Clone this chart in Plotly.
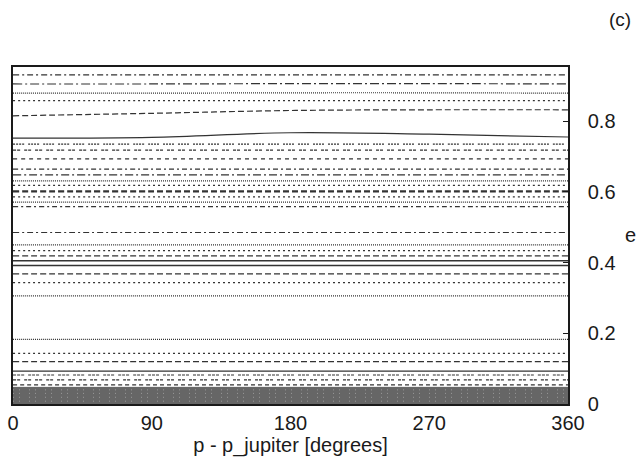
import plotly.graph_objects as go

# phase samples (degrees)
phase = [0, 90, 180, 270, 360]

# eccentricity curves (values at the phase samples), top to bottom
e_curves = [
    [0.931, 0.931, 0.931, 0.931, 0.931],
    [0.905, 0.905, 0.906, 0.906, 0.905],
    [0.879, 0.879, 0.880, 0.880, 0.879],
    [0.858, 0.858, 0.858, 0.858, 0.858],
    [0.815, 0.822, 0.830, 0.832, 0.832],
    [0.752, 0.754, 0.767, 0.763, 0.755],
    [0.735, 0.735, 0.735, 0.735, 0.735],
    [0.718, 0.718, 0.718, 0.718, 0.718],
    [0.693, 0.693, 0.693, 0.693, 0.693],
    [0.664, 0.664, 0.664, 0.664, 0.664],
    [0.648, 0.648, 0.648, 0.648, 0.648],
    [0.631, 0.631, 0.631, 0.631, 0.631],
    [0.618, 0.618, 0.618, 0.618, 0.618],
    [0.601, 0.601, 0.601, 0.601, 0.601],
    [0.586, 0.586, 0.586, 0.586, 0.586],
    [0.571, 0.571, 0.571, 0.571, 0.571],
    [0.558, 0.558, 0.558, 0.558, 0.558],
    [0.485, 0.485, 0.485, 0.485, 0.485],
    [0.450, 0.450, 0.450, 0.450, 0.450],
    [0.434, 0.434, 0.434, 0.434, 0.434],
    [0.419, 0.419, 0.419, 0.419, 0.419],
    [0.405, 0.405, 0.405, 0.405, 0.405],
    [0.392, 0.392, 0.392, 0.392, 0.392],
    [0.368, 0.368, 0.368, 0.368, 0.368],
    [0.343, 0.343, 0.343, 0.343, 0.343],
    [0.306, 0.306, 0.306, 0.306, 0.306],
    [0.183, 0.183, 0.183, 0.183, 0.183],
    [0.143, 0.143, 0.143, 0.143, 0.143],
    [0.120, 0.120, 0.120, 0.120, 0.120],
    [0.093, 0.093, 0.093, 0.093, 0.093],
    [0.082, 0.082, 0.082, 0.082, 0.082],
    [0.068, 0.068, 0.068, 0.068, 0.068],
    [0.054, 0.054, 0.054, 0.054, 0.054],
]

# dense low-eccentricity band (upper edge)
band_top = [0.047, 0.047, 0.047, 0.047, 0.047]
band_lines = [0.008, 0.019, 0.030, 0.040]

x_ticks = [0, 90, 180, 270, 360]
y_ticks = [0, 0.2, 0.4, 0.6, 0.8]

# styles
dash_styles = [
    "6px,3px,2px,3px", "9px,3px,2px,3px", "1px,1px", "2px,3px", "6px,3px",
    "solid", "2px,1px,2px,1px,2px,1px,2px,4px", "3px,1px,3px,4px", "4px,4px",
    "5px,3px,2px,3px", "8px,3px,2px,3px", "1px,1px", "2px,3px", "6px,3px",
    "2px,3px", "1px,1px", "5px,3px,2px,3px", "6px,3px,2px,3px", "1px,1px",
    "2px,3px", "6px,3px", "solid", "solid", "6px,3px", "2px,3px", "1px,1px",
    "1px,1px", "2px,3px", "6px,3px", "solid",
    "3px,1px,3px,1px,3px,4px", "3px,1px,3px,4px", "4px,3px",
]
widths = [1.2] * len(e_curves)
widths[13] = 2.2
widths[21] = 1.5
widths[22] = 1.5

fig = go.Figure()

fig.add_trace(go.Scatter(x=phase, y=band_top, mode="lines",
                         line=dict(color="#5e5e5e", width=1),
                         fill="tozeroy", fillcolor="#666666",
                         showlegend=False, hoverinfo="skip"))
for b in band_lines:
    fig.add_trace(go.Scatter(x=phase, y=[b] * len(phase), mode="lines",
                             line=dict(color="#9a9a9a", width=1, dash="1px,5px,1px,9px"),
                             showlegend=False, hoverinfo="skip"))

for ys, d, w in zip(e_curves, dash_styles, widths):
    fig.add_trace(go.Scatter(x=phase, y=ys, mode="lines",
                             line=dict(color="#333333", width=w, dash=d, shape="spline"),
                             showlegend=False, hoverinfo="skip"))

font = "Liberation Sans, Arial, sans-serif"
fig.update_layout(
    width=641, height=469,
    margin=dict(l=13, r=73, t=67, b=65, autoexpand=False),
    paper_bgcolor="white", plot_bgcolor="white",
    font=dict(family=font, size=20, color="#1a1a1a"),
    xaxis=dict(range=[0, 360], tickvals=x_ticks, ticktext=[str(v) for v in x_ticks],
               showgrid=False, zeroline=False, showline=True, mirror=True,
               linecolor="#1a1a1a", linewidth=1.5, ticks="", automargin=False,
               ticklabelstandoff=0,
               title=dict(text="p - p_jupiter [degrees]", standoff=0,
                          font=dict(size=20))),
    yaxis=dict(range=[0, 0.953], side="right", tickvals=y_ticks,
               ticktext=["0", "0.2", "0.4", "0.6", "0.8"], automargin=False,
               showgrid=False, zeroline=False, showline=True, mirror=True,
               linecolor="#1a1a1a", linewidth=1.5, ticks="inside", ticklen=5,
               tickcolor="#1a1a1a", ticklabelstandoff=14),
    annotations=[
        dict(text="e", x=630, y=235, xref="paper", yref="paper",
             xanchor="center", yanchor="middle",
             showarrow=False, font=dict(size=20)),
        dict(text="(c)", x=620, y=20, xref="paper", yref="paper",
             xanchor="center", yanchor="middle",
             showarrow=False, font=dict(size=19)),
    ],
)

# convert pixel positions of annotations into paper coords
pw = 641 - 13 - 73
ph = 469 - 67 - 65
for a in fig.layout.annotations:
    a.x = (a.x - 13) / pw
    a.y = (469 - 65 - a.y) / ph

fig.write_html("out.html")
